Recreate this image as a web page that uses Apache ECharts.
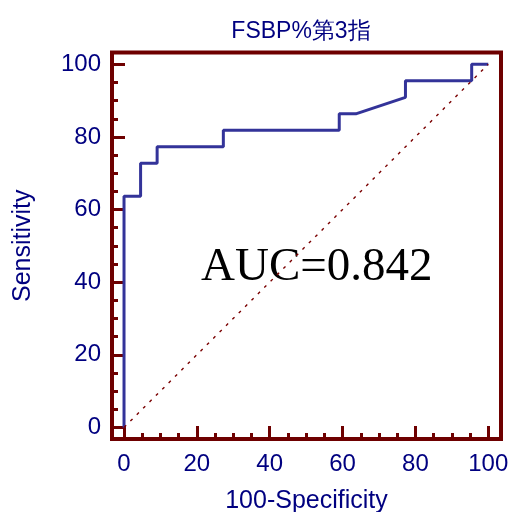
<!DOCTYPE html>
<html>
<head>
<meta charset="utf-8">
<script src="https://cdn.jsdelivr.net/npm/echarts@6/dist/echarts.min.js"></script>
<style>
  html, body { margin: 0; padding: 0; background: #fff; }
  #chart { width: 512px; height: 512px; }
</style>
</head>
<body>
<div id="chart"></div>
<script>
// ROC curve points: [100 - specificity, sensitivity]
const rocX = [0, 0, 4.55, 4.55, 9.09, 9.09, 27.27, 27.27, 59.09, 59.09, 63.64, 77.27, 77.27, 95.45, 95.45, 100];
const rocY = [0, 63.64, 63.64, 72.73, 72.73, 77.27, 77.27, 81.82, 81.82, 86.36, 86.36, 90.91, 95.45, 95.45, 100, 100];
// Reference (chance) line
const diagX = [0, 100];
const diagY = [0, 100];
// Tick values
const majorTicks = [0, 20, 40, 60, 80, 100];
const minorTicks = [5, 10, 15, 25, 30, 35, 45, 50, 55, 65, 70, 75, 85, 90, 95];
const aucText = 'AUC=0.842';
const titleText = 'FSBP%第3指';

const FRAME = '#6e0000';
const NAVY = '#000080';
const SANS = '"Liberation Sans", Arial, sans-serif';

const rocData = rocX.map((x, i) => [x, rocY[i]]);
const diagData = diagX.map((x, i) => [x, diagY[i]]);

function axisPair(dim, min, max, name, nameGap) {
  const major = {
    type: 'value', min: min, max: max,
    position: dim === 'x' ? 'bottom' : 'left',
    axisLine: { show: false, onZero: false },
    splitLine: { show: false },
    axisTick: { show: true, inside: true, length: 13, customValues: majorTicks,
                lineStyle: { color: FRAME, width: 3 } },
    axisLabel: { show: true, customValues: majorTicks, color: NAVY, fontSize: 24,
                 fontFamily: SANS, margin: dim === 'x' ? 13 : 11 },
    name: name, nameLocation: 'middle', nameGap: nameGap,
    nameTextStyle: { color: NAVY, fontSize: 25, fontFamily: SANS }
  };
  const minor = {
    type: 'value', min: min, max: max,
    position: dim === 'x' ? 'bottom' : 'left',
    offset: 0,
    axisLine: { show: false, onZero: false },
    splitLine: { show: false },
    axisTick: { show: true, inside: true, length: 6, customValues: minorTicks,
                lineStyle: { color: FRAME, width: 3 } },
    axisLabel: { show: false }
  };
  return [major, minor];
}

const chart = echarts.init(document.getElementById('chart'), null, { renderer: 'canvas' });
chart.setOption({
  animation: false,
  backgroundColor: '#ffffff',
  title: {
    text: titleText, left: 296, top: 15, textAlign: 'center',
    textStyle: { color: NAVY, fontSize: 23, fontWeight: 'normal', fontFamily: SANS }
  },
  grid: {
    left: 112, right: 11, top: 52.5, bottom: 73,
    containLabel: false, outerBoundsMode: 'none',
    show: true, borderColor: FRAME, borderWidth: 4, backgroundColor: 'transparent'
  },
  xAxis: axisPair('x', -3.3, 103.5, '100-Specificity', 50),
  yAxis: axisPair('y', -3.2, 103.25, 'Sensitivity', 76),
  graphic: [{
    type: 'text', left: 201, top: 244, z: 1,
    style: { text: aucText, fill: '#000', font: '47px "Liberation Serif", "Times New Roman", serif' }
  }],
  series: [
    {
      type: 'line', data: rocData, xAxisIndex: 0, yAxisIndex: 0,
      symbol: 'none', lineStyle: { color: '#333399', width: 3 }, z: 3
    },
    {
      type: 'line', data: diagData, xAxisIndex: 0, yAxisIndex: 0,
      symbol: 'none', lineStyle: { color: '#7a0000', width: 1.4, type: [3, 6] }, z: 4
    }
  ]
});
</script>
</body>
</html>
